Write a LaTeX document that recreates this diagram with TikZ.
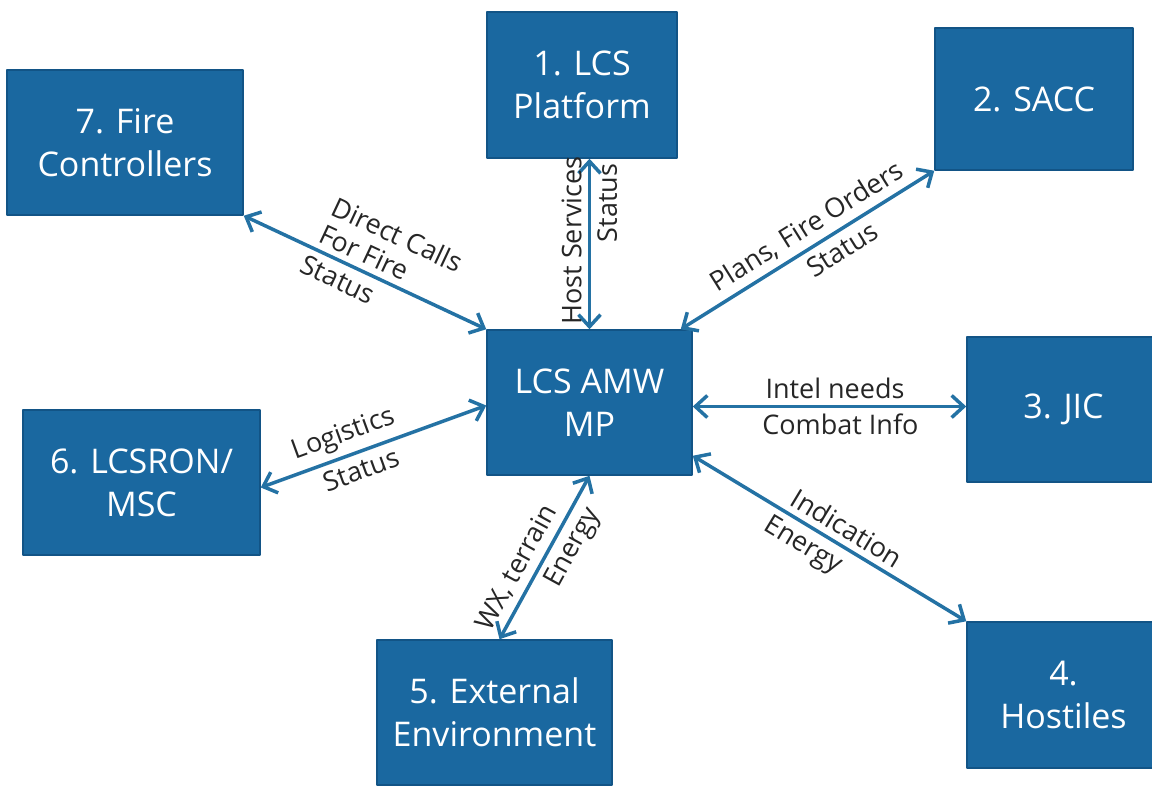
\documentclass[tikz,border=0pt]{standalone}
\usepackage{fontspec}
\setmainfont{Open Sans}
\usetikzlibrary{arrows.meta,calc}
\definecolor{boxblue}{RGB}{26,104,160}
\definecolor{boxedge}{RGB}{18,84,134}
\definecolor{linkblue}{RGB}{36,114,164}
\begin{document}
\begin{tikzpicture}[x=1pt, y=-1pt, line join=round, line cap=round,
	>={Straight Barb[length=12pt,width=22pt]},
	box/.style={rectangle, fill=boxblue, draw=boxedge, line width=1.5pt, text=white, align=center, inner sep=0pt, font=\fontsize{34}{43}\selectfont},
	link/.style={<->, draw=linkblue, line width=3.5pt},
	lbl/.style={sloped, text=black!85, inner sep=6pt, font=\fontsize{27}{30}\selectfont}]
	\useasboundingbox (0,0) rectangle (1152,785);
	\clip (0,0) rectangle (1152,785);
	% cac khoi
	\node[box, minimum width=236pt, minimum height=145pt] (fire) at (125,142.5) {7. Fire\\Controllers};
	\node[box, minimum width=190pt, minimum height=146pt] (plat) at (582,85) {1. LCS\\Platform};
	\node[box, minimum width=198pt, minimum height=142pt] (sacc) at (1034,99) {2. SACC};
	\node[box, minimum width=205pt, minimum height=145pt] (amw) at (589.5,402.5) {LCS AMW\\MP};
	\node[box, minimum width=193pt, minimum height=145pt] (jic) at (1063.5,409.5) {3. JIC};
	\node[box, minimum width=193pt, minimum height=146pt] (host) at (1063.5,695) {4.\\Hostiles};
	\node[box, minimum width=235pt, minimum height=145pt] (ext) at (494.5,712.5) {5. External\\Environment};
	\node[box, minimum width=237pt, minimum height=145pt] (lcsron) at (141.5,482.5) {6. LCSRON/\\MSC};
	% cac mui ten
	\draw[link] (fire.south east) -- (amw.north west)
		node[lbl, pos=0.55, above, align=left] {Direct Calls\\For Fire}
		node[lbl, pos=0.42, below] {Status};
	\draw[link] (amw.north) -- (amw.north |- plat.south)
		node[lbl, pos=0.52, above] {Host Services}
		node[lbl, pos=0.74, below] {Status};
	\draw[link] ([xshift=-12pt]amw.north east) -- (sacc.south west)
		node[lbl, pos=0.54, above] {Plans, Fire Orders}
		node[lbl, pos=0.60, below] {Status};
	\draw[link] ([yshift=-4pt]amw.east) -- ([yshift=-4pt]amw.east -| jic.west)
		node[lbl, pos=0.52, above] {Intel needs}
		node[lbl, pos=0.54, below] {Combat Info};
	\draw[link] ([yshift=20pt]amw.south east) -- (host.north west)
		node[lbl, pos=0.53, above] {Indication}
		node[lbl, pos=0.44, below] {Energy};
	\draw[link] ([xshift=5pt]ext.north) -- (amw.south)
		node[lbl, pos=0.38, above] {WX, terrain}
		node[lbl, pos=0.62, below] {Energy};
	\draw[link] ([yshift=-5pt]lcsron.east) -- ([yshift=-3pt]amw.west)
		node[lbl, pos=0.40, above] {Logistics}
		node[lbl, pos=0.42, below] {Status};
\end{tikzpicture}
\end{document}
